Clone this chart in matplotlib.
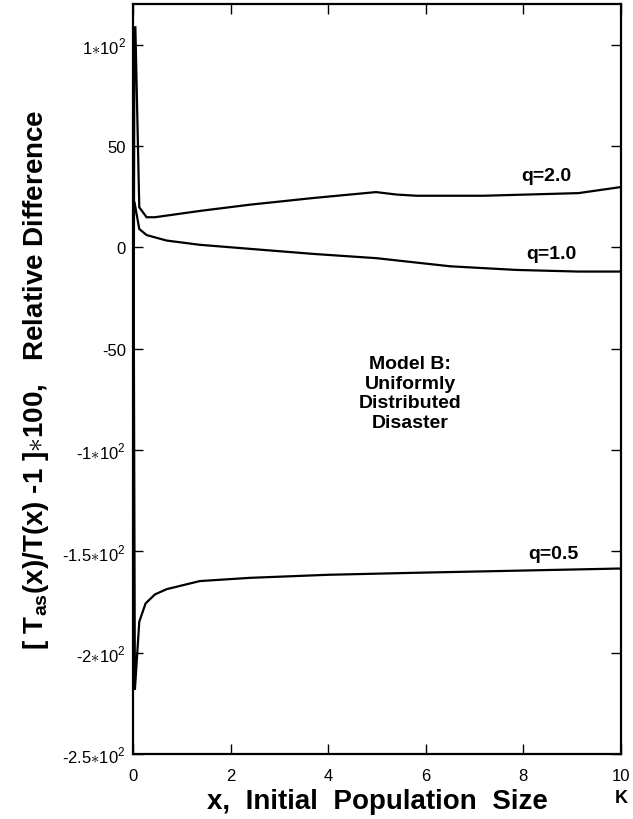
import numpy as np
import matplotlib
matplotlib.use("Agg")
import matplotlib.pyplot as plt

plt.rcParams['font.family'] = ['Liberation Sans', 'DejaVu Sans']
plt.rcParams['mathtext.fontset'] = 'custom'
plt.rcParams['mathtext.rm'] = 'Liberation Sans'
plt.rcParams['mathtext.bf'] = 'Liberation Sans:bold'

# curves (x in K, relative difference in %)
x_q2 = [0.0, 0.03, 0.05, 0.13, 0.28, 0.45, 1.4, 2.4, 3.7, 4.98, 5.4, 5.81, 7.18, 9.13, 10.0]
y_q2 = [-219, 108.5, 108.5, 19.7, 14.8, 14.8, 18.0, 21.0, 24.3, 27.2, 26.0, 25.4, 25.4, 26.7, 29.7]

x_q1 = [0.0, 0.03, 0.13, 0.28, 0.69, 1.37, 2.4, 3.7, 4.99, 6.5, 7.86, 9.13, 10.0]
y_q1 = [0.0, 22.5, 9.0, 6.0, 3.3, 1.2, -0.8, -3.3, -5.4, -9.4, -11.2, -12.0, -12.0]

x_q05 = [0.0, 0.04, 0.13, 0.26, 0.45, 0.69, 1.37, 2.4, 4.0, 5.8, 8.0, 10.0]
y_q05 = [108.0, -218.4, -184.7, -175.7, -171.3, -168.7, -164.7, -163.1, -161.6, -160.6, -159.5, -158.5]

yticks = [100, 50, 0, -50, -100, -150, -200, -250]
ytick_labels = [r'1$\ast$10$^2$', '50', '0', '-50', r'-1$\ast$10$^2$',
                r'-1.5$\ast$10$^2$', r'-2$\ast$10$^2$', r'-2.5$\ast$10$^2$']
xticks = [0, 2, 4, 6, 8, 10]

fig = plt.figure(figsize=(6.33, 8.20), dpi=100)
ax = fig.add_axes([0.210, 0.0793, 0.771, 0.9146])

for xs, ys in [(x_q2, y_q2), (x_q1, y_q1), (x_q05, y_q05)]:
    ax.plot(xs, ys, color='black', lw=1.6, solid_joinstyle='miter')

ax.set_xlim(0, 10)
ax.set_ylim(-250, 120)
ax.set_xticks(xticks)
ax.set_xticklabels([str(v) for v in xticks])
ax.set_yticks(yticks)
ax.set_yticklabels(ytick_labels)
ax.tick_params(direction='in', length=7, width=1, top=True, right=True,
               labelsize=12)
ax.tick_params(axis='x', pad=10)
ax.tick_params(axis='y', pad=5)
for s in ax.spines.values():
    s.set_linewidth(1.6)

ax.text(8.48, 35.3, 'q=2.0', fontsize=14, fontweight='bold', ha='center', va='center')
ax.text(8.58, -3.3, 'q=1.0', fontsize=14, fontweight='bold', ha='center', va='center')
ax.text(8.61, -151, 'q=0.5', fontsize=14, fontweight='bold', ha='center', va='center')
ax.text(5.68, -72, 'Model B:\nUniformly\nDistributed\nDisaster', fontsize=14,
        fontweight='bold', ha='center', va='center', linespacing=1.2)

ax.text(1.0, -0.058, 'K', transform=ax.transAxes, fontsize=13, fontweight='bold',
        ha='center', va='center')
ax.set_xlabel('x,  Initial  Population  Size', fontsize=20, fontweight='bold', labelpad=4)
ax.set_ylabel(r'[ T$_{\mathbf{as}}$(x)/T(x) -1 ]$\ast$100,   Relative Difference',
              fontsize=20, fontweight='bold', labelpad=8)

fig.savefig('out.png', dpi=100)
